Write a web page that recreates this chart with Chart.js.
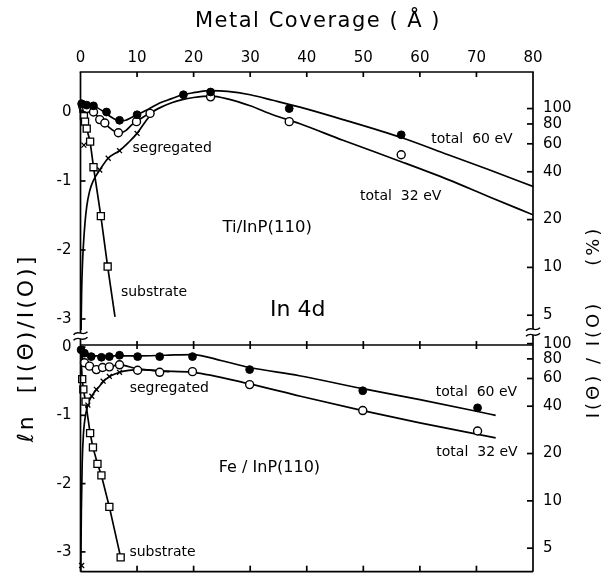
<!DOCTYPE html>
<html><head><meta charset="utf-8">
<script src="https://cdn.jsdelivr.net/npm/chart.js@4"></script>
<style>html,body{margin:0;padding:0;background:#fff}#wrap{position:relative;width:610px;height:578px}canvas{position:absolute;left:0;top:0}</style>
</head><body><div id="wrap"><canvas id="c1" width="610" height="578"></canvas><canvas id="c2" width="610" height="578"></canvas></div>
<script>
// ---------- axis ticks ----------
const xTicks = [0,10,20,30,40,50,60,70,80];
const leftTicks = [0,-1,-2,-3];
const pctTicks = [100,80,60,40,20,10,5];
const topRange = [-3.16, 0.58];
const botRange = [-3.29, 0.03];

// ---------- Ti/InP(110) (top panel) ----------
const tiT60X = [0.2,1.1,2.3,4.6,6.9,10.0,18.2,23.0,36.9,56.7];
const tiT60Y = [0.12,0.10,0.09,0.00,-0.12,-0.04,0.25,0.29,0.05,-0.33];
const tiT32X = [0.4,1.1,2.3,3.4,4.3,6.7,9.9,12.3,23.0,36.9,56.7];
const tiT32Y = [0.08,0.05,0.00,-0.11,-0.16,-0.30,-0.14,-0.02,0.22,-0.14,-0.62];
const tiSegX = [0.6,3.4,4.9,6.9,10.0];
const tiSegY = [-0.48,-0.84,-0.67,-0.56,-0.31];
const tiSubX = [0.5,0.6,0.8,1.1,1.7,2.3,3.6,4.8];
const tiSubY = [0.05,-0.06,-0.14,-0.24,-0.43,-0.80,-1.51,-2.24];
const tiFit60X = [0,1,2,3,4,5,6,7,8,9,10,12,14,16,18,20,23,26,30,34,38.8,46.4,56.7,65,72,80];
const tiFit60Y = [0.13,0.12,0.10,0.06,0.01,-0.05,-0.10,-0.13,-0.12,-0.08,-0.04,0.04,0.13,0.19,0.25,0.28,0.31,0.30,0.25,0.17,0.07,-0.11,-0.37,-0.62,-0.83,-1.08];
const tiFit32X = [0,1,2,3,4,5,6,7,8,9,10,12,14,16,18,20,23,26,30,34,38.8,46.4,56.7,65,72,80];
const tiFit32Y = [0.08,0.05,0.01,-0.06,-0.14,-0.22,-0.28,-0.30,-0.27,-0.19,-0.13,-0.03,0.06,0.13,0.18,0.21,0.23,0.19,0.09,-0.04,-0.17,-0.41,-0.72,-0.98,-1.22,-1.49];
const tiSegFitX = [0.1,0.2,0.35,0.5,0.8,1.1,1.6,2.3,3.4,4.9,6.9,8.5,10,11.3,12.6];
const tiSegFitY = [-3.16,-2.6,-2.2,-1.95,-1.6,-1.37,-1.15,-0.99,-0.84,-0.67,-0.56,-0.44,-0.31,-0.16,-0.02];
const tiSubFitX = [0.2,0.5,0.6,0.8,1.1,1.7,2.3,3.6,4.8,6.1];
const tiSubFitY = [0.1,0.05,-0.06,-0.14,-0.24,-0.43,-0.80,-1.51,-2.24,-2.97];

// ---------- Fe/InP(110) (bottom panel) ----------
const feT60X = [0.1,0.7,1.9,3.7,5.1,6.9,10.1,14.0,19.8,29.9,49.9,70.2];
const feT60Y = [-0.04,-0.09,-0.14,-0.15,-0.14,-0.12,-0.14,-0.14,-0.14,-0.33,-0.64,-0.89];
const feT32X = [0.7,1.6,2.8,3.9,5.1,6.9,10.1,14.0,19.8,29.9,49.9,70.2];
const feT32Y = [-0.23,-0.28,-0.33,-0.30,-0.29,-0.26,-0.34,-0.37,-0.36,-0.55,-0.93,-1.23];
const feSegX = [0.2,1.3,2.0,2.8,4.0,5.1,6.9];
const feSegY = [-3.2,-0.85,-0.72,-0.62,-0.50,-0.43,-0.37];
const feSubX = [0.3,0.5,0.9,1.7,2.2,3.0,3.7,5.1,7.1];
const feSubY = [-0.47,-0.62,-0.80,-1.26,-1.47,-1.71,-1.88,-2.34,-3.08];
const feFit60X = [0,0.5,1,2,5,10,15,19.8,25,29.9,38.7,49.9,60,70,73.4];
const feFit60Y = [-0.02,-0.08,-0.11,-0.13,-0.13,-0.13,-0.12,-0.11,-0.20,-0.30,-0.42,-0.61,-0.77,-0.94,-1.0];
const feFit32X = [0,0.3,0.7,1.6,2.8,3.9,5.1,6.9,10.1,14,19.8,29.9,38.9,49.9,60,73.4];
const feFit32Y = [-0.05,-0.15,-0.23,-0.28,-0.33,-0.30,-0.29,-0.26,-0.32,-0.35,-0.37,-0.54,-0.72,-0.93,-1.11,-1.33];
const feSegFitX = [0.05,0.15,0.3,0.5,1.0,1.6,2.2,3.4,4.5,6.9,10.4,15.7];
const feSegFitY = [-3.29,-2.4,-1.7,-1.3,-0.95,-0.78,-0.69,-0.57,-0.47,-0.37,-0.33,-0.36];
const feSubFitX = [0,0.3,0.5,0.9,1.7,2.2,3.0,3.7,5.1,7.1];
const feSubFitY = [0,-0.47,-0.62,-0.80,-1.26,-1.47,-1.71,-1.88,-2.34,-3.08];

// ---------- helpers ----------
const FONT = '"DejaVu Sans", sans-serif';
const zip = (xs, ys) => xs.map((x, i) => ({x, y: ys[i]}));
const curve = (xs, ys, smooth) => ({data: zip(xs, ys), showLine: true, pointRadius: 0, borderColor: '#000', borderWidth: 1.7,
  cubicInterpolationMode: smooth ? 'monotone' : 'default', tension: 0, fill: false, order: 2});
const marks = (xs, ys, style) => Object.assign({data: zip(xs, ys), showLine: false, clip: false, order: 0, borderColor: '#000'}, style);
const FILLED = {pointStyle: 'circle', pointRadius: 3.9, backgroundColor: '#000', borderWidth: 1};
const OPEN = {pointStyle: 'circle', pointRadius: 4, backgroundColor: '#fff', borderWidth: 1.4};
const SQUARE = {pointStyle: 'rect', pointRadius: 5, backgroundColor: '#fff', borderWidth: 1.3};
const CROSS = {pointStyle: 'crossRot', pointRadius: 3.5, borderWidth: 1.3};

const decor = {
  id: 'decor',
  afterDraw(chart, args, o) {
    const {ctx, chartArea: ca} = chart;
    const {x, y, yR} = chart.scales;
    const L = ca.left, R = ca.right, T = ca.top, B = ca.bottom;
    ctx.save();
    ctx.strokeStyle = '#000'; ctx.fillStyle = '#000'; ctx.lineWidth = 1.7;
    const line = (x1, y1, x2, y2) => { ctx.beginPath(); ctx.moveTo(x1, y1); ctx.lineTo(x2, y2); ctx.stroke(); };
    if (o.panel === 'top') {
      line(L - 0.8, T, R + 0.8, T);
      line(L, T, L, B + 15);
      line(R, T, R, B + 15);
      xTicks.slice(1, -1).forEach(v => { const px = x.getPixelForValue(v); line(px, T, px, T + 5); });
    } else {
      line(L, T, R, T);
      line(L, B, R, B);
      line(L, T, L, B); line(R, T, R, B);
      xTicks.slice(1, -1).forEach(v => { const px = x.getPixelForValue(v); line(px, T - 4, px, T + 4); line(px, B, px, B - 6); });
    }
    leftTicks.forEach(v => { const py = y.getPixelForValue(v); line(L, py, L + 5, py); });
    pctTicks.forEach(p => { const py = yR.getPixelForValue(Math.log(p / 100)); line(R - 6, py, R, py); });
    ctx.textAlign = 'center'; ctx.textBaseline = 'middle';
    o.texts.forEach(t => {
      ctx.font = `${t.size}px ${FONT}`;
      ctx.fillText(t.text, x.getPixelForValue(t.x), y.getPixelForValue(t.y));
    });
    if (o.panel === 'top') {
      // axis break marks
      const brk = (cx, cy) => {
        ctx.fillStyle = '#fff'; ctx.fillRect(cx - 7, cy - 3, 14, 6); ctx.fillStyle = '#000';
        ctx.lineWidth = 1.4;
        [-2.8, 2.8].forEach(d => {
          ctx.beginPath(); ctx.moveTo(cx - 7, cy + d + 1.5);
          ctx.bezierCurveTo(cx - 2, cy + d - 4, cx + 2, cy + d + 4, cx + 7, cy + d - 1.5);
          ctx.stroke();
        });
      };
      brk(L, 336); brk(R, 332);
      // titles
      ctx.font = `21px ${FONT}`;
      ctx.letterSpacing = '1.5px';
      ctx.fillText('Metal Coverage ( Å )', 318, 22);
      ctx.save(); ctx.translate(27, 348); ctx.rotate(-Math.PI / 2);
      ctx.font = `22px ${FONT}`; ctx.letterSpacing = '3px';
      ctx.fillText('ℓn  [I(Θ)/I(O)]', 0, 0); ctx.restore();
      ctx.save(); ctx.translate(594, 322); ctx.rotate(-Math.PI / 2);
      ctx.font = `18px ${FONT}`; ctx.letterSpacing = '3px';
      ctx.fillText('I(Θ) / I(O)    (%)', 0, 0); ctx.restore();
    }
    ctx.restore();
  }
};

function zeroPad(s) { s.paddingTop = 0; s.paddingBottom = 0; s.paddingLeft = 0; s.paddingRight = 0; }

function panel(id, cfg) {
  const tickFont = {family: FONT, size: 15};
  return new Chart(document.getElementById(id), {
    type: 'scatter',
    data: {datasets: cfg.datasets},
    options: {
      responsive: false, animation: false, devicePixelRatio: 1, events: [],
      layout: {padding: cfg.padding},
      plugins: {legend: {display: false}, tooltip: {enabled: false}, decor: cfg.decor},
      scales: {
        x: {type: 'linear', axis: 'x', position: cfg.xPos, min: 0, max: 80,
          afterFit: s => { s.height = cfg.xH; zeroPad(s); },
          afterBuildTicks: s => { s.ticks = xTicks.map(v => ({value: v})); },
          grid: {display: false, drawTicks: false}, border: {display: false},
          ticks: {display: cfg.xLabels, padding: 5, font: tickFont, color: '#000', maxRotation: 0, autoSkip: false}},
        y: {type: 'linear', axis: 'y', position: 'left', min: cfg.range[0], max: cfg.range[1],
          afterFit: s => { s.width = 80.5; zeroPad(s); },
          afterBuildTicks: s => { s.ticks = leftTicks.map(v => ({value: v})); },
          grid: {display: false, drawTicks: false}, border: {display: false},
          ticks: {padding: 9, font: tickFont, color: '#000', autoSkip: false, callback: v => String(v)}},
        yR: {type: 'linear', axis: 'y', position: 'right', min: cfg.range[0] - 0.05, max: cfg.range[1] - 0.05,
          afterFit: s => { s.width = 77; zeroPad(s); },
          afterBuildTicks: s => { s.ticks = pctTicks.map(p => ({value: Math.log(p / 100)})); },
          grid: {display: false, drawTicks: false}, border: {display: false},
          ticks: {padding: 10, font: tickFont, color: '#000', autoSkip: false, callback: v => String(Math.round(100 * Math.exp(v)))}}
      }
    },
    plugins: [decor]
  });
}

panel('c1', {
  xPos: 'top', xH: 72, xLabels: true, range: topRange,
  padding: {top: 0, bottom: 248, left: 0, right: 0},
  decor: {panel: 'top', texts: [
    {text: 'segregated', x: 16.2, y: -0.52, size: 14},
    {text: 'Ti/InP(110)', x: 33, y: -1.68, size: 16.5},
    {text: 'substrate', x: 13, y: -2.61, size: 14},
    {text: 'total  60 eV', x: 69.2, y: -0.39, size: 14},
    {text: 'total  32 eV', x: 56.6, y: -1.22, size: 14},
    {text: 'In 4d', x: 38.4, y: -2.87, size: 22}
  ]},
  datasets: [
    marks(tiT60X, tiT60Y, FILLED), marks(tiT32X, tiT32Y, OPEN),
    marks(tiSegX, tiSegY, CROSS), marks(tiSubX, tiSubY, SQUARE),
    curve(tiFit60X, tiFit60Y, true), curve(tiFit32X, tiFit32Y, true),
    curve(tiSegFitX, tiSegFitY, true), curve(tiSubFitX, tiSubFitY, false)
  ]
});

panel('c2', {
  xPos: 'bottom', xH: 1, xLabels: false, range: botRange,
  padding: {top: 345, bottom: 0, left: 0, right: 0},
  decor: {panel: 'bottom', texts: [
    {text: 'segregated', x: 15.7, y: -0.6, size: 14},
    {text: 'Fe / InP(110)', x: 33.4, y: -1.77, size: 16},
    {text: 'substrate', x: 14.5, y: -3.01, size: 14},
    {text: 'total  60 eV', x: 70, y: -0.66, size: 14},
    {text: 'total  32 eV', x: 70.1, y: -1.54, size: 14}
  ]},
  datasets: [
    marks(feT60X, feT60Y, FILLED), marks(feT32X, feT32Y, OPEN),
    marks(feSegX, feSegY, CROSS), marks(feSubX, feSubY, SQUARE),
    curve(feFit60X, feFit60Y, true), curve(feFit32X, feFit32Y, true),
    curve(feSegFitX, feSegFitY, true), curve(feSubFitX, feSubFitY, false)
  ]
});
</script></body></html>
